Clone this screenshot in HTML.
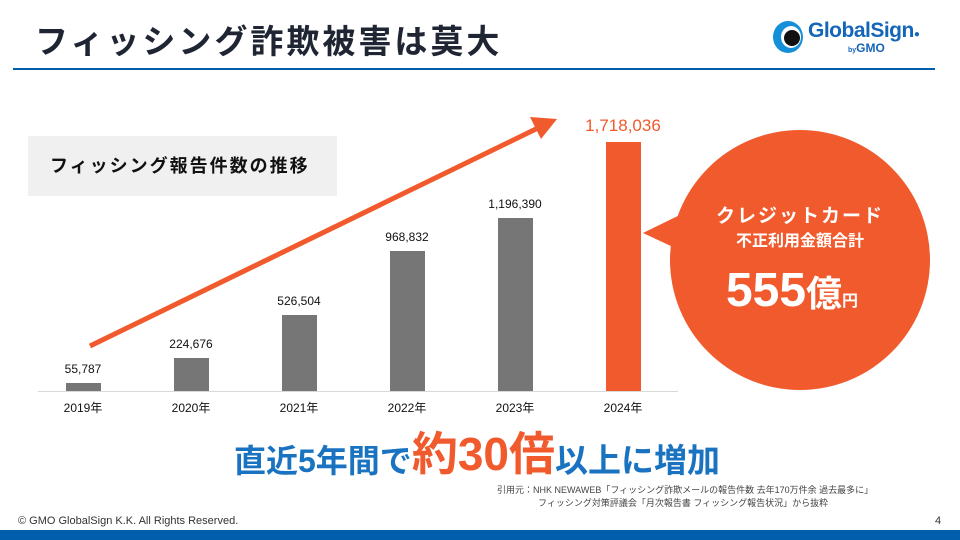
<!DOCTYPE html>
<html><head><meta charset="utf-8"><style>
body{margin:0;width:960px;height:540px;position:relative;background:#fff;overflow:hidden;font-family:"Liberation Sans","Noto Sans CJK JP",sans-serif;}
.a{position:absolute;white-space:nowrap;}
</style></head><body>
<div class="a" style="left:35px;top:15px;font-size:33px;font-weight:bold;color:#1f2533;letter-spacing:3px;">フィッシング詐欺被害は莫大</div>
<div class="a" style="left:13px;top:68px;width:922px;height:2px;background:#005eac;"></div>
<svg class="a" style="left:770px;top:20px" width="40" height="36"><ellipse cx="18" cy="17" rx="15" ry="16" fill="#1590d8"/><ellipse cx="21" cy="17" rx="10" ry="11" fill="#fff"/><circle cx="22" cy="18" r="8" fill="#111"/></svg>
<div class="a" style="left:808px;top:19px;font-size:21px;font-weight:bold;color:#1565b8;letter-spacing:-0.5px;">GlobalSign<span style="font-size:10px">●</span></div>
<div class="a" style="left:848px;top:41px;font-size:12px;font-weight:bold;color:#1565b8;"><span style="font-size:7px">by</span>GMO</div>

<div class="a" style="left:28px;top:136px;width:309px;height:60px;background:#f0f0f0;"></div>
<div class="a" style="left:50px;top:152px;font-size:18px;font-weight:bold;color:#111;letter-spacing:2px;">フィッシング報告件数の推移</div>

<svg class="a" style="left:0;top:0" width="960" height="540">
<line x1="38" y1="391.5" x2="678" y2="391.5" stroke="#d9d9d9" stroke-width="1"/>
<g fill="#767676">
<rect x="66" y="383" width="35" height="8"/>
<rect x="174" y="358" width="35" height="33"/>
<rect x="282" y="315" width="35" height="76"/>
<rect x="390" y="251" width="35" height="140"/>
<rect x="498" y="218" width="35" height="173"/>
</g>
<rect x="606" y="142" width="35" height="249" fill="#f15a2c"/>
<line x1="90" y1="346" x2="538" y2="128" stroke="#f15a2c" stroke-width="5"/>
<polygon points="557,119 530,117 541,139" fill="#f15a2c"/>
<circle cx="800" cy="260" r="130" fill="#f15a2c"/>
<polygon points="643,233 690,210 690,255" fill="#f15a2c"/>
<g font-size="12" fill="#111" text-anchor="middle" font-family="Liberation Sans,Noto Sans CJK JP,sans-serif">
<text x="83" y="373">55,787</text><text x="191" y="348">224,676</text><text x="299" y="305">526,504</text><text x="407" y="241">968,832</text><text x="515" y="208">1,196,390</text>
<text x="83" y="412">2019年</text><text x="191" y="412">2020年</text><text x="299" y="412">2021年</text><text x="407" y="412">2022年</text><text x="515" y="412">2023年</text><text x="623" y="412">2024年</text>
</g>
<text x="623" y="131" font-size="17" fill="#f15a2c" text-anchor="middle" font-family="Liberation Sans,sans-serif">1,718,036</text>
<g fill="#fff" text-anchor="middle" font-weight="bold" font-family="Liberation Sans,Noto Sans CJK JP,sans-serif">
<text x="800" y="222" font-size="19" letter-spacing="2">クレジットカード</text>
<text x="800" y="246" font-size="16">不正利用金額合計</text>
<text x="792" y="306" font-size="48">555<tspan font-size="36">億</tspan><tspan font-size="16">円</tspan></text>
</g>
</svg>

<div class="a" style="left:234px;top:420px;font-size:32px;font-weight:bold;color:#1a73c0;">直近5年間で<span style="color:#f15a2c;font-size:46px;position:relative;top:-2px">約30倍</span><span style="font-size:33px">以上に増加</span></div>
<div class="a" style="left:497px;top:484px;font-size:9px;color:#444;line-height:13px;">引用元：NHK NEWAWEB「フィッシング詐欺メールの報告件数 去年170万件余 過去最多に」<br><span style="padding-left:41px">フィッシング対策評議会「月次報告書 フィッシング報告状況」から抜粋</span></div>
<div class="a" style="left:18px;top:515px;font-size:11px;color:#333;">© GMO GlobalSign K.K. All Rights Reserved.</div>
<div class="a" style="left:935px;top:515px;font-size:11px;color:#333;">4</div>
<div class="a" style="left:0;top:530px;width:960px;height:10px;background:#005eac;"></div>
</body></html>
